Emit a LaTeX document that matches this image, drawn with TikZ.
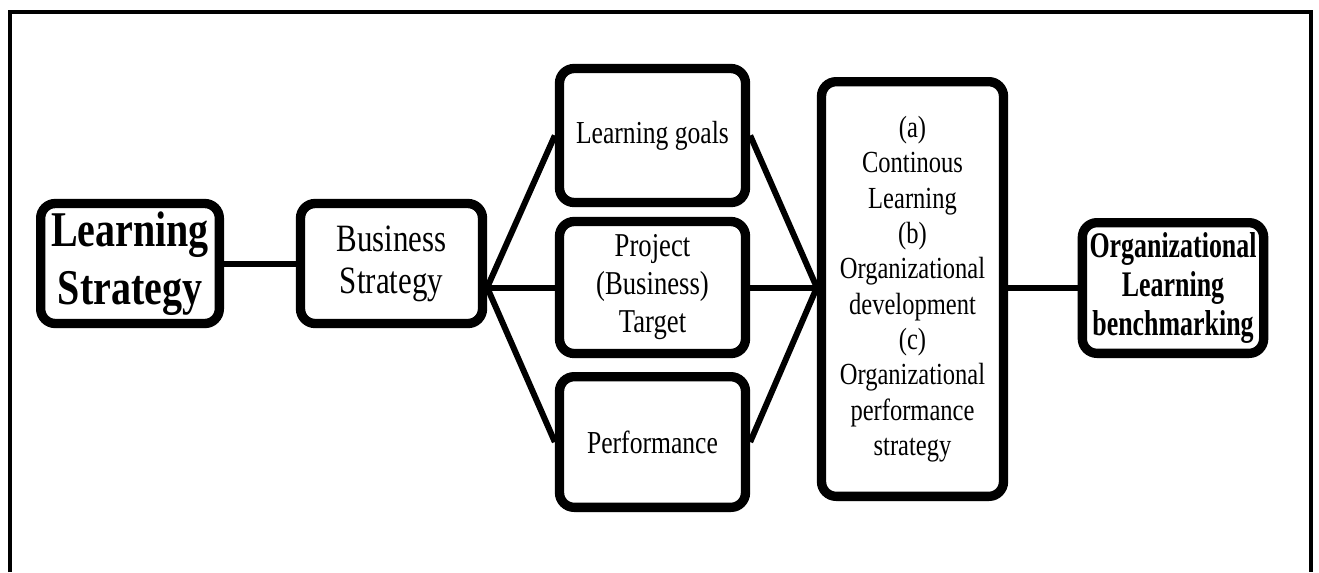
\documentclass[tikz,border=0pt]{standalone}
\usepackage{fontspec}
\setmainfont{Liberation Serif}[FakeStretch=0.8]
\newfontfamily\narrowfont{Liberation Serif}[FakeStretch=0.72]
\usetikzlibrary{shadows}
\def\drawlink{\draw[line width=4.5pt]}
\def\boxnode{\node[draw=black, line width=7pt, rounded corners=11pt, fill=white,
  align=center, inner sep=0pt,
  drop shadow={shadow xshift=1.5pt, shadow yshift=-3.5pt, opacity=0.3}]}

\begin{document}
\begin{tikzpicture}[x=0.75pt,y=-0.75pt]
\useasboundingbox (0,0) rectangle (1319,572);
\draw[line width=3pt] (9.5,572) -- (9.5,11.5) -- (1310.5,11.5) -- (1310.5,572); % open frame

% -------- left pair --------
\boxnode[minimum width=134pt, minimum height=90pt,
  font={\fontsize{37.5}{44}\selectfont\bfseries}] (lstrat) at (130,263.5) {Learning\\Strategy};
\boxnode[minimum width=136.5pt, minimum height=90pt,
  font={\fontsize{29}{31.5}\selectfont}] (bstrat) at (391.5,263.5) {Business\\Strategy};

% -------- the three middle boxes --------
\boxnode[minimum width=139.5pt, minimum height=100.5pt,
  font={\fontsize{24}{28}\selectfont}] (lgoals) at (652.5,135.5) {Learning goals};
\boxnode[minimum width=139.5pt, minimum height=99pt,
  font={\fontsize{25}{28.5}\selectfont}] (ptarget) at (652.5,287.5) {Project\\(Business)\\Target};
\boxnode[minimum width=139.5pt, minimum height=98pt,
  font={\fontsize{24}{28}\selectfont}] (perf) at (652.5,442) {Performance};

% -------- right side --------
\boxnode[minimum width=136.5pt, minimum height=311pt,
  font={\fontsize{23}{26.5}\selectfont}] (orgdev) at (912.5,289)
  {(a)\\Continous\\Learning\\(b)\\Organizational\\development\\(c)\\Organizational\\performance\\strategy};
\boxnode[minimum width=136pt, minimum height=98pt,
  font={\narrowfont\fontsize{27}{29}\selectfont\bfseries}] (bench) at (1173,288)
  {Organizational\\Learning\\benchmarking};

% fan points on the box edges
\coordinate (lfan) at (bstrat.east |- ptarget.west);
\coordinate (rfan) at (orgdev.west |- ptarget.east);

\drawlink (lstrat) -- (bstrat);
\drawlink (lfan) -- (lgoals.west);
\drawlink (lfan) -- (ptarget.west);
\drawlink (lfan) -- (perf.west);
\drawlink (lgoals.east) -- (rfan);
\drawlink (ptarget.east) -- (rfan);
\drawlink (perf.east) -- (rfan);
\drawlink (orgdev.east |- bench.west) -- (bench.west);
\end{tikzpicture}
\end{document}
